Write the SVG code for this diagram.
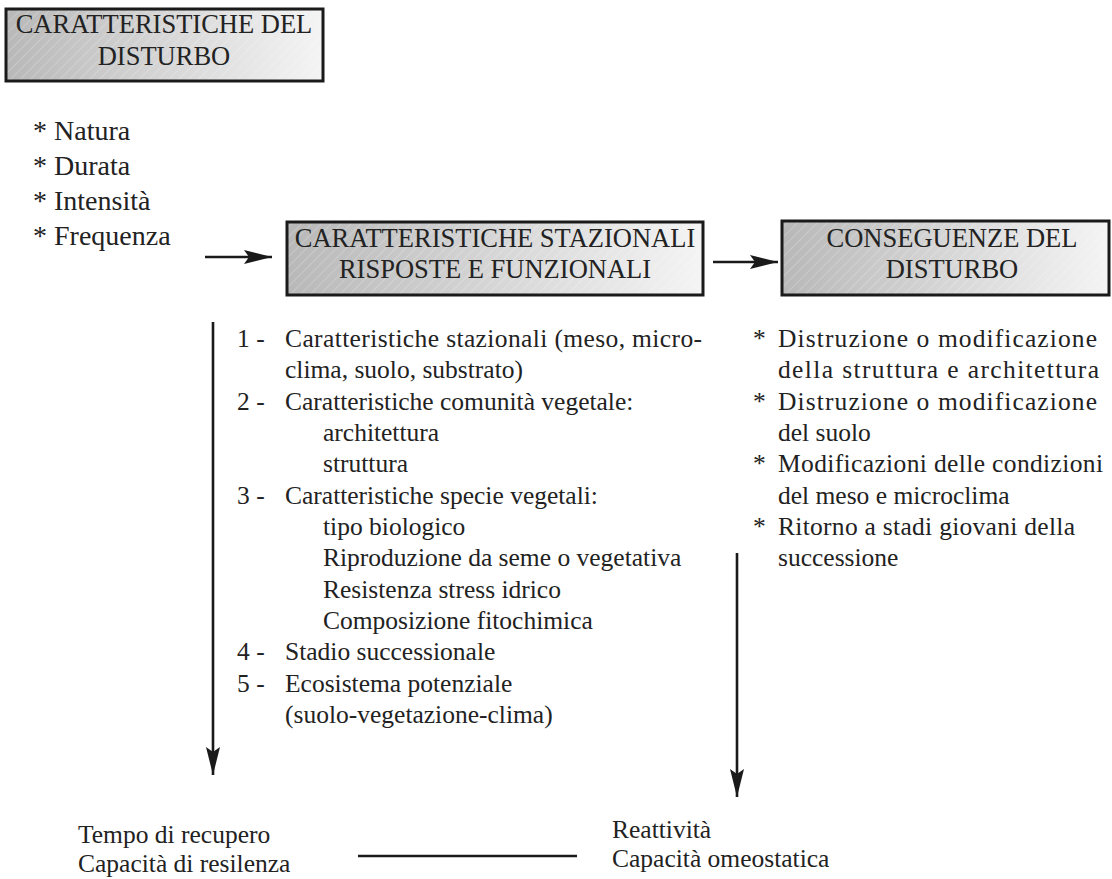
<svg xmlns="http://www.w3.org/2000/svg" width="1112" height="879" viewBox="0 0 1112 879" font-family="'Liberation Serif', 'DejaVu Serif', serif">
<style>
text{fill:#222}
.t{font-size:26.5px;text-anchor:middle}
.l{font-size:28px}
.m{font-size:25.5px}
.box{stroke:#1a1a1a;stroke-width:3}
.ln{stroke:#1a1a1a;stroke-width:2.6;fill:none}
</style>
<defs>
<linearGradient id="g" x1="0" y1="0" x2="1" y2="0">
<stop offset="0" stop-color="#b8b8b8"/>
<stop offset="1" stop-color="#f4f4f4"/>
</linearGradient>
<pattern id="h" width="7" height="7" patternUnits="userSpaceOnUse" patternTransform="rotate(45)">
<line x1="0" y1="0" x2="0" y2="7" stroke="#ffffff" stroke-opacity="0.35" stroke-width="1.2"/>
</pattern>
<marker id="a" viewBox="0 0 28 14" refX="28" refY="7" markerWidth="28" markerHeight="14" markerUnits="userSpaceOnUse" orient="auto">
<path d="M0,0 L28,7 L0,14 L5,7 z" fill="#1a1a1a"/>
</marker>
</defs>
<rect width="1112" height="879" fill="#ffffff"/>
<g id="box-disturbo">
<rect x="6" y="9" width="317" height="72" fill="url(#g)"/>
<rect x="6" y="9" width="317" height="72" fill="url(#h)" class="box"/>
<text class="t" x="164" y="33">CARATTERISTICHE DEL</text>
<text class="t" x="164" y="65">DISTURBO</text>
</g>
<g id="list-disturbo">
<text class="l" x="33" y="140">* Natura</text>
<text class="l" x="33" y="175">* Durata</text>
<text class="l" x="33" y="210">* Intensità</text>
<text class="l" x="33" y="245">* Frequenza</text>
</g>
<g id="box-stazionali">
<rect x="287" y="222" width="416" height="73" fill="url(#g)"/>
<rect x="287" y="222" width="416" height="73" fill="url(#h)" class="box"/>
<text class="t" x="495" y="247">CARATTERISTICHE STAZIONALI</text>
<text class="t" x="495" y="278">RISPOSTE E FUNZIONALI</text>
</g>
<g id="box-conseguenze">
<rect x="782" y="221" width="327" height="74" fill="url(#g)"/>
<rect x="782" y="221" width="327" height="74" fill="url(#h)" class="box"/>
<text class="t" x="952" y="247">CONSEGUENZE DEL</text>
<text class="t" x="952" y="278">DISTURBO</text>
</g>
<g id="list-stazionali">
<text class="m" x="237" y="347">1 -</text>
<text class="m" x="285" y="347" textLength="417" lengthAdjust="spacing">Caratteristiche stazionali (meso, micro-</text>
<text class="m" x="285" y="378.3">clima, suolo, substrato)</text>
<text class="m" x="237" y="409.7">2 -</text>
<text class="m" x="285" y="409.7">Caratteristiche comunità vegetale:</text>
<text class="m" x="323" y="441">architettura</text>
<text class="m" x="323" y="472.3">struttura</text>
<text class="m" x="237" y="503.7">3 -</text>
<text class="m" x="285" y="503.7">Caratteristiche specie vegetali:</text>
<text class="m" x="323" y="535">tipo biologico</text>
<text class="m" x="323" y="566.3">Riproduzione da seme o vegetativa</text>
<text class="m" x="323" y="597.7">Resistenza stress idrico</text>
<text class="m" x="323" y="629">Composizione fitochimica</text>
<text class="m" x="237" y="660.3">4 -</text>
<text class="m" x="285" y="660.3">Stadio successionale</text>
<text class="m" x="237" y="691.7">5 -</text>
<text class="m" x="285" y="691.7">Ecosistema potenziale</text>
<text class="m" x="285" y="723">(suolo-vegetazione-clima)</text>
</g>
<g id="list-conseguenze">
<text class="m" x="753" y="347">*</text>
<text class="m" x="778" y="347" textLength="319" lengthAdjust="spacing">Distruzione o modificazione</text>
<text class="m" x="778" y="378.3" textLength="321" lengthAdjust="spacing">della struttura e architettura</text>
<text class="m" x="753" y="409.7">*</text>
<text class="m" x="778" y="409.7" textLength="319" lengthAdjust="spacing">Distruzione o modificazione</text>
<text class="m" x="778" y="441">del suolo</text>
<text class="m" x="753" y="472.3">*</text>
<text class="m" x="778" y="472.3" textLength="325" lengthAdjust="spacing">Modificazioni delle condizioni</text>
<text class="m" x="778" y="503.7">del meso e microclima</text>
<text class="m" x="753" y="535">*</text>
<text class="m" x="778" y="535" textLength="297" lengthAdjust="spacing">Ritorno a stadi giovani della</text>
<text class="m" x="778" y="566.3">successione</text>
</g>
<g id="resilienza">
<text class="m" x="78" y="843">Tempo di recupero</text>
<text class="m" x="78" y="872">Capacità di resilenza</text>
</g>
<g id="omeostasi">
<text class="m" x="612" y="838">Reattività</text>
<text class="m" x="612" y="867">Capacità omeostatica</text>
</g>
<g id="connectors">
<line class="ln" x1="205" y1="257" x2="272" y2="257" marker-end="url(#a)"/>
<line class="ln" x1="713" y1="262" x2="778" y2="262" marker-end="url(#a)"/>
<line class="ln" x1="213" y1="322" x2="213" y2="775" marker-end="url(#a)"/>
<line class="ln" x1="737" y1="553" x2="737" y2="797" marker-end="url(#a)"/>
<line class="ln" x1="358" y1="856" x2="577" y2="856"/>
</g>
</svg>
